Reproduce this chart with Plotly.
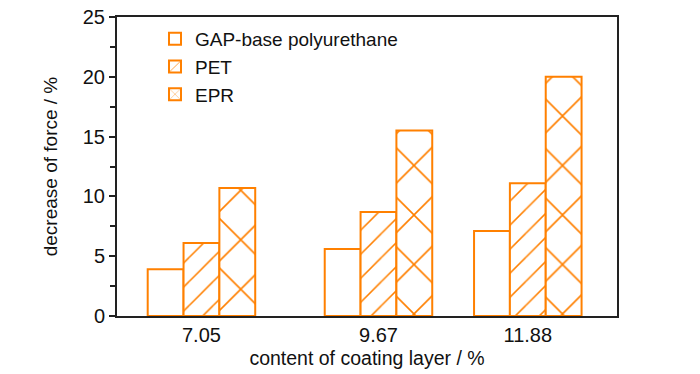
import plotly.graph_objects as go

content = [7.05, 9.67, 11.88]
tick_labels = ["7.05", "9.67", "11.88"]
gap_pu = [3.9, 5.6, 7.1]
pet = [6.1, 8.7, 11.1]
epr = [10.7, 15.5, 20.0]

ORANGE = "#FF8000"
FONT = "Liberation Sans, Arial, sans-serif"

fig = go.Figure()
series = [
    ("GAP-base polyurethane", gap_pu, "", 10, 0.2),
    ("PET", pet, "/", 17, 0.09),
    ("EPR", epr, "x", 35, 0.09),
]
for name, vals, shape, size, sol in series:
    fig.add_trace(go.Bar(
        x=content, y=vals, name=name,
        marker=dict(
            color="white",
            line=dict(color=ORANGE, width=2),
            pattern=dict(shape=shape, fgcolor=ORANGE, bgcolor="white",
                         size=size, solidity=sol, fillmode="replace"),
        ),
    ))

fig.update_layout(
    width=700, height=374,
    margin=dict(l=117, r=83, t=17, b=58, autoexpand=False),
    paper_bgcolor="white", plot_bgcolor="white",
    font=dict(family=FONT, size=20, color="#111"),
    barmode="group", bargap=0.28, bargroupgap=0,
    showlegend=True,
    legend=dict(x=0.076, y=0.99, xanchor="left", yanchor="top",
                bgcolor="rgba(0,0,0,0)", font=dict(size=19), tracegroupgap=0,
                itemsizing="constant"),
)
fig.update_xaxes(
    range=[5.8, 13.2], tickvals=content, ticktext=tick_labels,
    ticks="", showgrid=False, zeroline=False, automargin=False,
    showline=True, linecolor="#222", linewidth=2, mirror=True,
    title=dict(text="content of coating layer / %", standoff=6, font=dict(size=19.5)),
)
fig.update_yaxes(
    range=[0, 25], dtick=5, ticks="outside", ticklen=6, tickwidth=2, tickcolor="#222",
    minor=dict(dtick=2.5, ticks="outside", ticklen=5, tickwidth=2, tickcolor="#222"),
    showgrid=False, zeroline=False, automargin=False, ticklabeloverflow="allow",
    showline=True, linecolor="#222", linewidth=2, mirror=True,
    title=dict(text="decrease of force / %", standoff=20, font=dict(size=19)),
)

fig.write_html("out.html", config={"displayModeBar": False},
               post_script="document.body.style.margin='0px';")
